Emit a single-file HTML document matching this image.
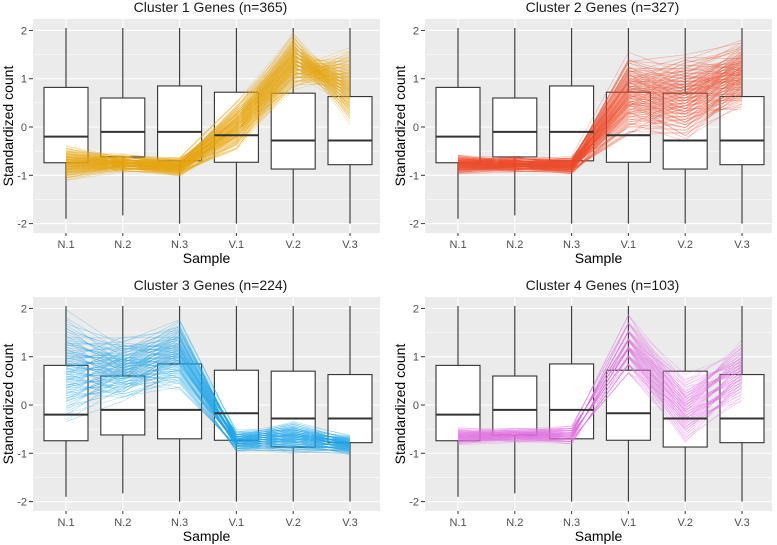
<!DOCTYPE html>
<html><head><meta charset="utf-8"><style>
html,body{margin:0;padding:0;background:#fff;width:777px;height:545px;overflow:hidden}
svg{display:block;font-family:"Liberation Sans",sans-serif}
</style></head><body>
<svg id="chart" width="777" height="545"></svg>
<script>
const samples=["N.1","N.2","N.3","V.1","V.2","V.3"];
const yTicks=[-2,-1,0,1,2];
const boxQ1=[-0.74,-0.62,-0.7,-0.73,-0.87,-0.78];
const boxMed=[-0.2,-0.1,-0.1,-0.17,-0.28,-0.28];
const boxQ3=[0.82,0.6,0.85,0.72,0.7,0.63];
const boxLo=[-1.9,-1.83,-2.0,-2.0,-2.0,-2.0];
const boxHi=[2.05,2.05,2.05,2.05,2.05,2.05];
const titles=["Cluster 1 Genes (n=365)","Cluster 2 Genes (n=327)","Cluster 3 Genes (n=224)","Cluster 4 Genes (n=103)"];
const colors=["#E6A50F","#EE4B2B","#1FA6E8","#E070E0"];
const lineCounts=[140,130,110,80];
const c1Lo=[-1.15,-0.95,-1.05,-0.55,0.7,0.0], c1Hi=[-0.35,-0.55,-0.6,0.6,2.0,1.7], c1Flip=[0,0,0,0,0,1];
const c2Lo=[-1.0,-0.95,-1.0,-0.3,-0.4,0.3], c2Hi=[-0.55,-0.6,-0.6,1.6,1.6,1.9], c2Flip=[0,0,0,0,0,0];
const c3Lo=[-0.5,0.0,0.2,-1.0,-1.05,-1.05], c3Hi=[2.0,1.5,1.9,-0.5,-0.3,-0.6], c3Flip=[0,0,0,0,0,0];
const c4Lo=[-0.85,-0.8,-0.85,0.5,-0.9,0.0], c4Hi=[-0.45,-0.45,-0.4,1.95,0.7,1.4], c4Flip=[0,0,0,0,0,0];
const loArr=[c1Lo,c2Lo,c3Lo,c4Lo], hiArr=[c1Hi,c2Hi,c3Hi,c4Hi], flipArr=[c1Flip,c2Flip,c3Flip,c4Flip];
const mixSteps=[0.618,0.414,0.732,0.236,0.303,0.171];

const NS="http://www.w3.org/2000/svg";
const svg=document.getElementById("chart");
function mk(tag,attrs,parent){const e=document.createElementNS(NS,tag);for(const k in attrs)e.setAttribute(k,attrs[k]);(parent||svg).appendChild(e);return e;}
const offs=[[0,0],[392,0],[0,278],[392,278]];
offs.forEach((o,p)=>{
  const g=mk("g",{transform:`translate(${o[0]},${o[1]})`});
  
  
  const L=33,R=380,T=19,B=233;
  const x=i=>66+i*56.8;
  const y=v=>127-v*48.3;
  const bg=mk("rect",{x:L,y:T,width:R-L,height:B-T,fill:"#EBEBEB"},g);
  
  
  for(let v=-2.5;v<=2.5;v+=0.5){if(y(v)<T||y(v)>B)continue;
    mk("line",{x1:L,x2:R,y1:y(v),y2:y(v),stroke:"#fff","stroke-width":Number.isInteger(v)?1.1:0.5},g);}
  samples.forEach((s,i)=>mk("line",{x1:x(i),x2:x(i),y1:T,y2:B,stroke:"#fff","stroke-width":1.1},g));
  const t=mk("text",{x:(L+R)/2+4,y:12,"text-anchor":"middle","font-size":14,fill:"#1a1a1a"},g);t.textContent=titles[p];
  
  
  yTicks.forEach(v=>{const tt=mk("text",{x:27,y:y(v)+4,"text-anchor":"end","font-size":11,fill:"#4D4D4D"},g);tt.textContent=v;
    
    
    mk("line",{x1:29,x2:L,y1:y(v),y2:y(v),stroke:"#333"},g);});
  samples.forEach((s,i)=>{const tt=mk("text",{x:x(i),y:248,"text-anchor":"middle","font-size":11,fill:"#4D4D4D"},g);tt.textContent=s;
    
    
    mk("line",{x1:x(i),x2:x(i),y1:B,y2:B+3,stroke:"#333"},g);});
  const xt=mk("text",{x:(L+R)/2,y:263,"text-anchor":"middle","font-size":14,fill:"#000"},g);xt.textContent="Sample";
  
  
  const yt=mk("text",{x:0,y:0,transform:`translate(13,${(T+B)/2}) rotate(-90)`,"text-anchor":"middle","font-size":14,fill:"#000"},g);yt.textContent="Standardized count";
  
  
  samples.forEach((s,i)=>{
    const bx=mk("g",{},g);
    
    
    mk("line",{x1:x(i),x2:x(i),y1:y(boxHi[i]),y2:y(boxLo[i]),stroke:"#333","stroke-width":1.1},bx);
    mk("rect",{x:x(i)-22,y:y(boxQ3[i]),width:44,height:y(boxQ1[i])-y(boxQ3[i]),fill:"#fff",stroke:"#333","stroke-width":1.1},bx);
  });
  const lo=loArr[p],hi=hiArr[p],fl=flipArr[p],n=lineCounts[p];
  const lg=mk("g",{},g);
  
  
  for(let k=0;k<n;k++){
    const f=(k+0.5)/n;
    const pts=samples.map((s,i)=>{
      const q=((k+1)*mixSteps[i])%1;
      let ff=0.55*f+0.45*q;
      if(fl[i])ff=1-ff;
      const v=lo[i]+(hi[i]-lo[i])*ff;return x(i)+","+y(v);}).join(" ");
    mk("polyline",{points:pts,fill:"none",stroke:colors[p],"stroke-width":0.6,"stroke-opacity":0.4},lg);
  }
  samples.forEach((s,i)=>mk("line",{x1:x(i)-22,x2:x(i)+22,y1:y(boxMed[i]),y2:y(boxMed[i]),stroke:"#333","stroke-width":2},g));
});
</script>
</body></html>
